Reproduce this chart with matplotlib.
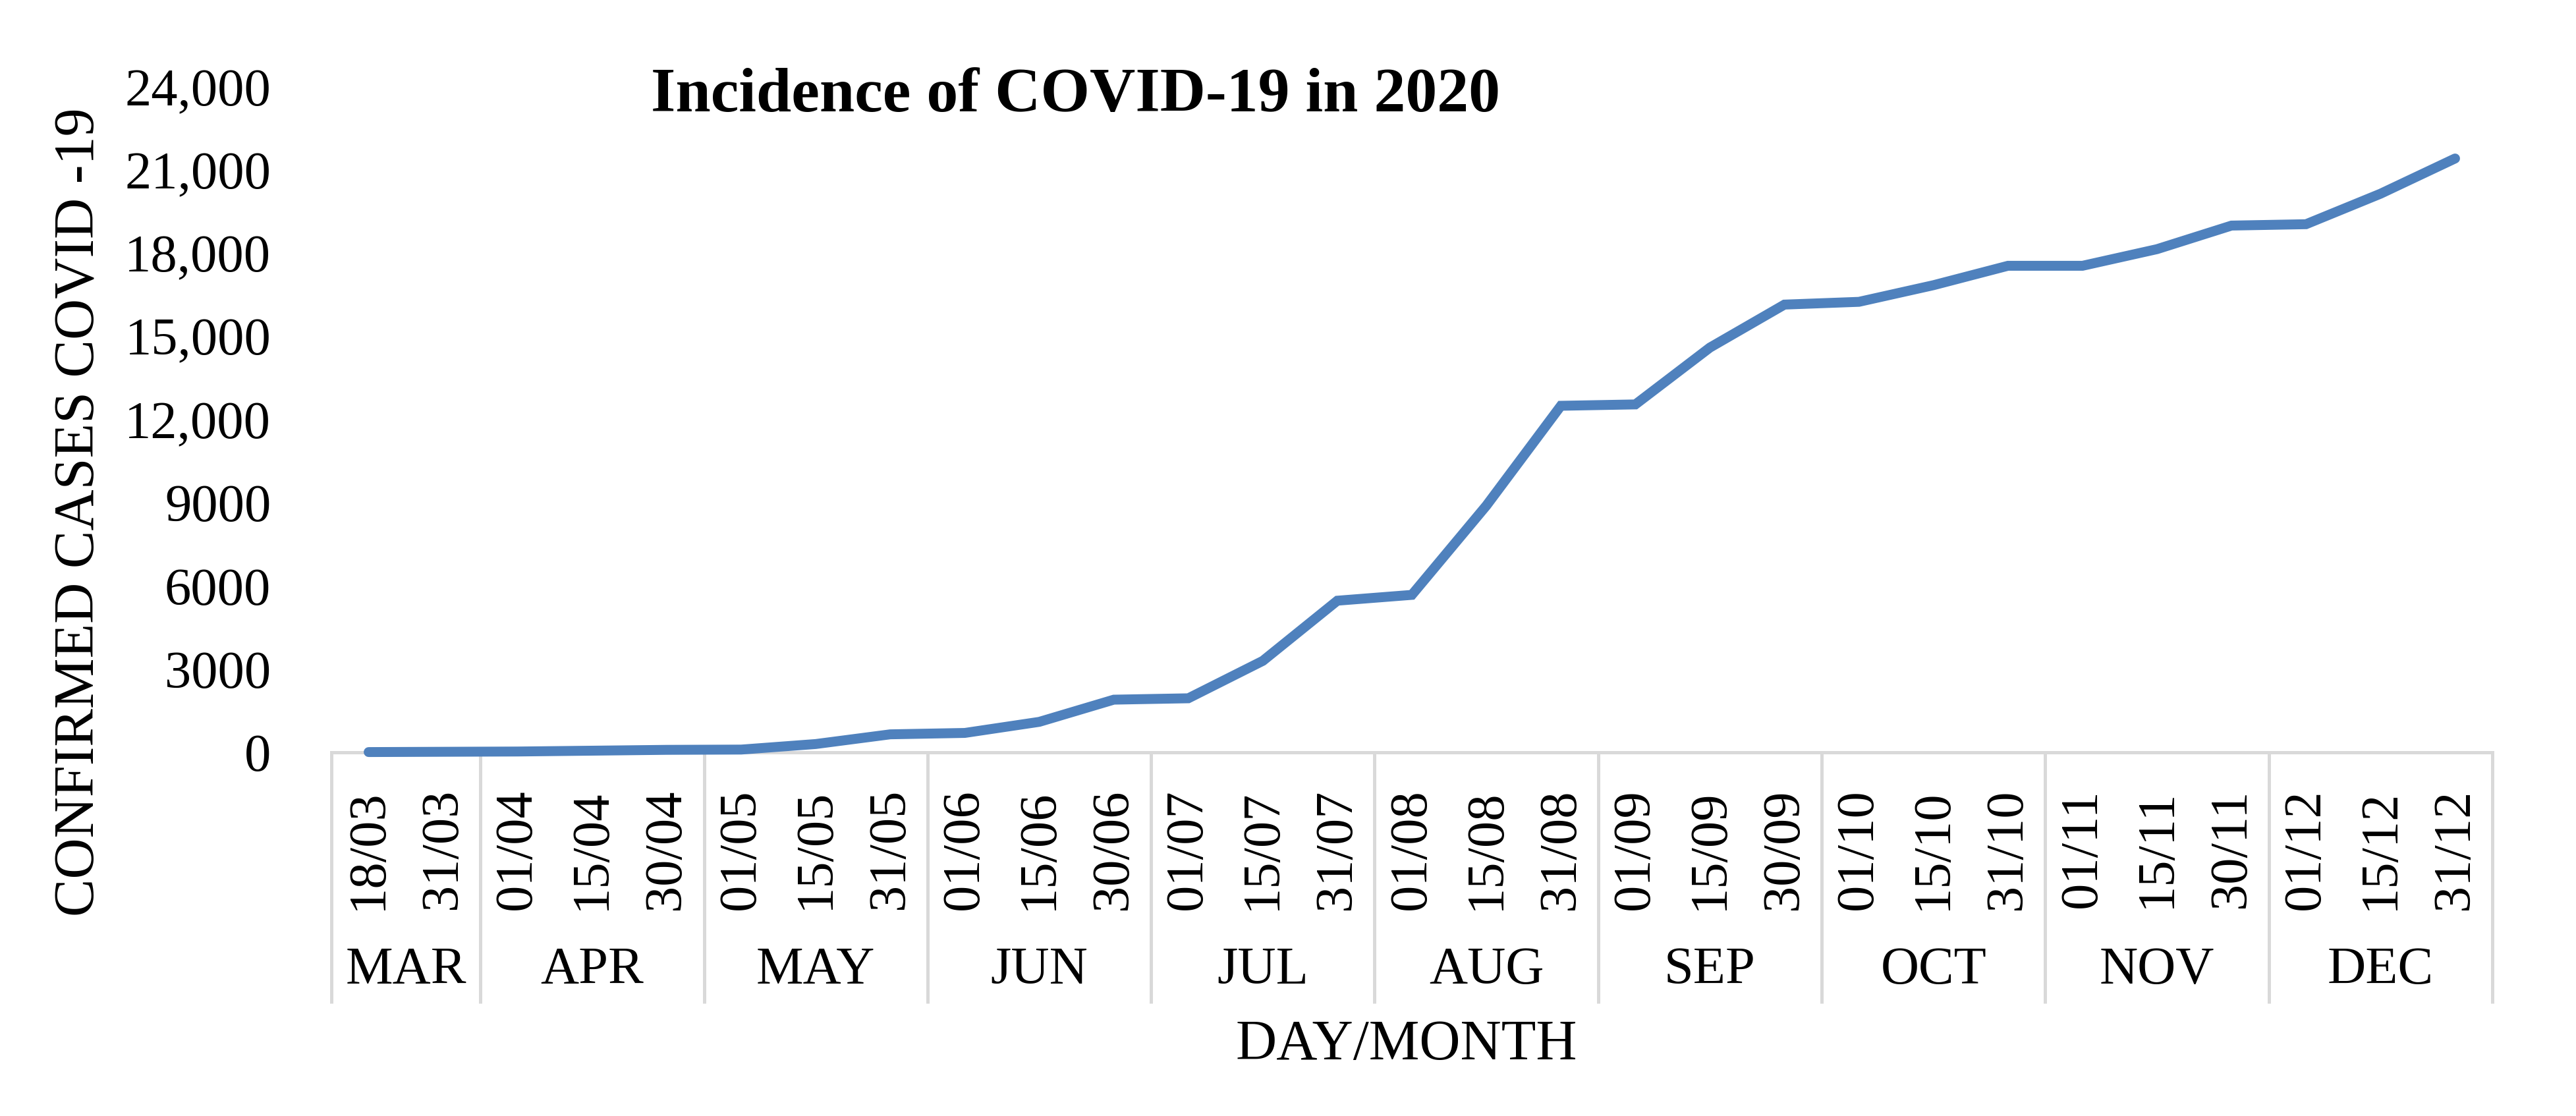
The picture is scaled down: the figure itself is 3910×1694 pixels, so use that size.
import matplotlib
matplotlib.use("Agg")
import matplotlib.pyplot as plt
import matplotlib.transforms as mtransforms

# ========== data ==========
days = ["18/03", "31/03",
        "01/04", "15/04", "30/04",
        "01/05", "15/05", "31/05",
        "01/06", "15/06", "30/06",
        "01/07", "15/07", "31/07",
        "01/08", "15/08", "31/08",
        "01/09", "15/09", "30/09",
        "01/10", "15/10", "31/10",
        "01/11", "15/11", "30/11",
        "01/12", "15/12", "31/12"]
months = ["MAR", "APR", "MAY", "JUN", "JUL", "AUG", "SEP", "OCT", "NOV", "DEC"]
days_per_month = [2, 3, 3, 3, 3, 3, 3, 3, 3, 3]
cases = [10, 20, 30, 60, 90,
         100, 300, 650,
         700, 1100, 1900,
         1950, 3300, 5470,
         5680, 8900, 12500,
         12550, 14600, 16150,
         16250, 16850, 17550,
         17550, 18150, 19000,
         19050, 20150, 21420]
yticks = [0, 3000, 6000, 9000, 12000, 15000, 18000, 21000, 24000]
ytick_labels = ["0", "3000", "6000", "9000", "12,000", "15,000",
                "18,000", "21,000", "24,000"]

# ========== style ==========
BLUE = "#4F81BD"
GRID = "#D9D9D9"
FS = 29        # tick / category labels
FS_AX = 31     # axis titles
W, H = 3910, 1694

plt.rcParams["font.family"] = ["Liberation Serif", "DejaVu Serif"]

fig = plt.figure(figsize=(W / 200, H / 200), dpi=200)
# plot area in pixels: left 503, right 3783, y=0 at 1142, y=24000 at 132
ax = fig.add_axes([503 / W, 1 - 1142 / H, (3783 - 503) / W, (1142 - 132) / H])

x = list(range(len(days)))
ax.plot(x, cases, color=BLUE, lw=5.4, solid_capstyle="round", solid_joinstyle="miter",
        clip_on=False, zorder=3)

ax.set_xlim(-0.5, len(days) - 0.5)
ax.set_ylim(0, 24000)
ax.set_yticks(yticks)
ax.set_yticklabels(ytick_labels, fontsize=FS)
ax.tick_params(axis="y", length=0, pad=33)
ax.set_xticks([])

for s in ["top", "right", "left"]:
    ax.spines[s].set_visible(False)
ax.spines["bottom"].set_color(GRID)
ax.spines["bottom"].set_linewidth(1.8)

# day labels (rotated)
trans = mtransforms.blended_transform_factory(ax.transData, ax.transAxes)
day_top = -(1197 - 1142) / (1142 - 132)
for i, d in enumerate(days):
    ax.text(i, day_top, d, rotation=90, ha="center", va="top", fontsize=FS,
            transform=trans)

# month separators and labels
sep_bottom = -(1523 - 1142) / (1142 - 132)
month_y = -(1473 - 1142) / (1142 - 132)
start = 0
bounds = [-0.5]
for m, n in zip(months, days_per_month):
    mid = start + (n - 1) / 2
    ax.text(mid, month_y, m, ha="center", va="center", fontsize=FS, transform=trans)
    start += n
    bounds.append(start - 0.5)
for b in bounds:
    ax.plot([b, b], [0, sep_bottom], color=GRID, lw=1.8, transform=trans,
            clip_on=False, solid_capstyle="butt")

# axis titles and chart title
fig.text(2135 / W, 1 - 1587 / H, "DAY/MONTH", ha="center", va="center", fontsize=FS_AX)
fig.text(122 / W, 1 - 777 / H, "CONFIRMED CASES COVID -19", rotation=90,
         ha="center", va="center", fontsize=FS_AX)
fig.text(1633 / W, 1 - 146 / H, "Incidence of COVID-19 in 2020", ha="center",
         va="center", fontsize=34.5, fontweight="bold")

fig.savefig("out.png", dpi=200)
